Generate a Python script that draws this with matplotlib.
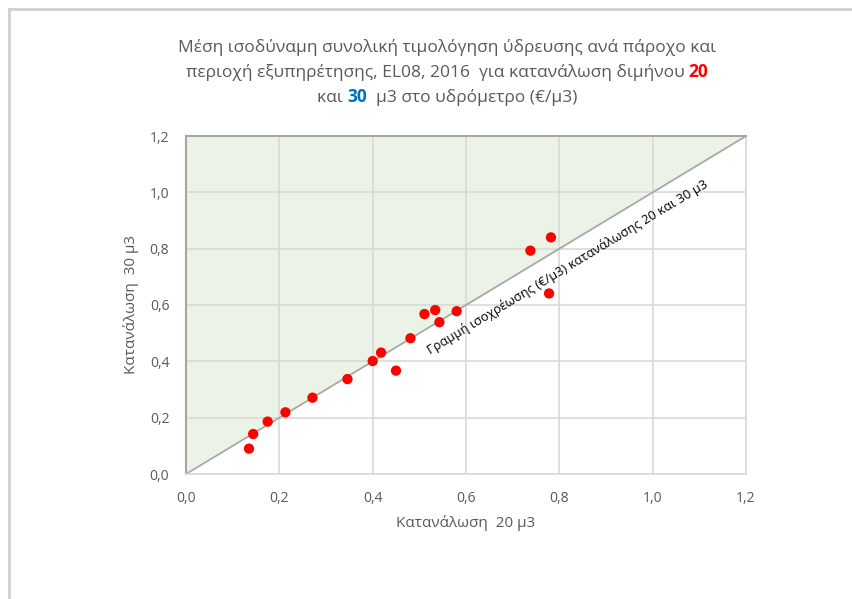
import numpy as np
import matplotlib
matplotlib.use("Agg")
import matplotlib.pyplot as plt
from matplotlib.lines import Line2D

plt.rcParams['font.family'] = ['Open Sans', 'DejaVu Sans']

# average price per m3 for 20 m3 (x) and 30 m3 (y) bimonthly consumption
cons_20 = [0.135, 0.144, 0.175, 0.213, 0.271, 0.346, 0.400, 0.418, 0.450,
           0.481, 0.511, 0.534, 0.543, 0.580, 0.738, 0.782, 0.778]
cons_30 = [0.090, 0.142, 0.186, 0.219, 0.271, 0.337, 0.401, 0.431, 0.367,
           0.482, 0.568, 0.582, 0.539, 0.578, 0.793, 0.840, 0.641]

ticks = [0.0, 0.2, 0.4, 0.6, 0.8, 1.0, 1.2]
tick_labels = ["0,0", "0,2", "0,4", "0,6", "0,8", "1,0", "1,2"]

title_l1 = "Μέση ισοδύναμη συνολική τιμολόγηση ύδρευσης ανά πάροχο και"
title_l2 = ["περιοχή εξυπηρέτησης, EL08, 2016  για κατανάλωση διμήνου ", "20"]
title_l3 = ["και ", "30", "  μ3 στο υδρόμετρο (€/μ3)"]
line_label = "Γραμμή ισοχρέωσης (€/μ3) κατανάλωσης 20 και 30 μ3"

gray_txt = "#595959"

fig = plt.figure(figsize=(8.52, 5.99), dpi=100)
ax = fig.add_axes([186/852, 1-474/599, 560/852, 338/599])

# outer frame of the chart area
fig.add_artist(Line2D([9/852, 9/852], [0, 1-9/599], color="#d0d0d0", lw=2))
fig.add_artist(Line2D([9/852, 1], [1-9/599, 1-9/599], color="#d0d0d0", lw=2))

# shaded area above equal line
ax.fill([0, 0, 1.2], [0, 1.2, 1.2], color="#ebf3e6", zorder=0)
ax.plot([0, 1.2], [0, 1.2], color="#a6a6a6", lw=1.2, zorder=2)

ax.scatter(cons_20, cons_30, s=55, color="#ff0000", edgecolors="none", zorder=3)

ax.set_xlim(0, 1.2)
ax.set_ylim(0, 1.2)
ax.set_xticks(ticks)
ax.set_yticks(ticks)
ax.set_xticklabels(tick_labels)
ax.set_yticklabels(tick_labels)
ax.tick_params(length=0, labelsize=10, colors=gray_txt, pad=12)
ax.grid(True, color="#d9d9d9", lw=1.2, zorder=1)
ax.set_axisbelow(True)
for side in ["left", "top"]:
    ax.spines[side].set_color("#a6a6a6")
    ax.spines[side].set_linewidth(1.5)
for side in ["right", "bottom"]:
    ax.spines[side].set_color("#d9d9d9")
    ax.spines[side].set_linewidth(1.2)

ax.set_xlabel("Κατανάλωση  20 μ3", fontsize=11, color=gray_txt, labelpad=7)
ax.set_ylabel("Κατανάλωση  30 μ3", fontsize=11, color=gray_txt, labelpad=8)

# label along the equal line
ang = np.degrees(np.arctan2(338, 560))
ax.text(0.818, 0.735, line_label, rotation=ang, rotation_mode="anchor",
        ha="center", va="center", fontsize=9.3, color="black")

# multi-coloured title
fig.canvas.draw()
rend = fig.canvas.get_renderer()
fs = 12.5
cx = 447 / 852


def draw_line(parts, y):
    texts = []
    for s, c, w in parts:
        texts.append(fig.text(0, y, s, fontsize=fs, color=c, fontweight=w,
                              ha="left", va="baseline"))
    widths = [t.get_window_extent(rend).width / fig.bbox.width for t in texts]
    x = cx - sum(widths) / 2
    for t, wd in zip(texts, widths):
        t.set_x(x)
        x += wd


draw_line([(title_l1, gray_txt, "normal")], 1 - 52/599)
draw_line([(title_l2[0], gray_txt, "normal"), (title_l2[1], "#ff0000", "bold")], 1 - 77/599)
draw_line([(title_l3[0], gray_txt, "normal"), (title_l3[1], "#0070c0", "bold"),
           (title_l3[2], gray_txt, "normal")], 1 - 102/599)

fig.savefig("out.png", dpi=100)
